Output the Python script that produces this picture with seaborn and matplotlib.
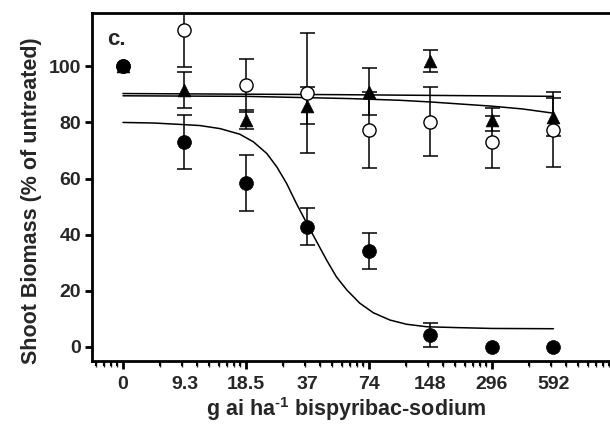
import numpy as np
import pandas as pd
import matplotlib
matplotlib.use("Agg")
import matplotlib.pyplot as plt
from matplotlib.ticker import FixedLocator, LogLocator, NullFormatter
import seaborn as sns

# ---------------- data ----------------
dose_labels = ['0', '9.3', '18.5', '37', '74', '148', '296', '592']
dose_pos = np.arange(len(dose_labels))            # equally spaced categories

closed_mean = [100, 73, 58.3, 42.8, 34.3, 4.3, 0, 0]
closed_err = [np.nan, 9.6, 10.0, 6.6, 6.4, 4.2, np.nan, np.nan]
open_mean = [100, 113, 93.2, 90.5, 77.2, 80.2, 73, 77.4]
open_err = [np.nan, 13.4, 9.3, 21.3, 13.5, 12.3, 9.3, 13.4]
tri_mean = [100, 91.5, 81, 86, 91, 101.8, 81, 82]
tri_err = [np.nan, 6.5, 3.5, 6.7, 8.5, 3.9, 4.2, 6.8]

# fitted curves (position units of the dose categories)
curve_closed_pos = [0, 0.5, 0.93, 1.25, 1.58, 1.90, 2.12, 2.34, 2.50, 2.66, 2.82,
                    2.99, 3.15, 3.31, 3.47, 3.64, 3.85, 4.07, 4.34, 4.61, 4.94,
                    5.43, 6.0, 7.0]
curve_closed_val = [80, 79.8, 79.3, 78.9, 77.8, 75.8, 73.1, 68.9, 64.2, 58.3, 51.1,
                    44.0, 37.5, 31.0, 25.0, 20.3, 15.6, 12.2, 9.6, 8.1, 7.2,
                    6.9, 6.6, 6.5]
curve_open_pos = [0, 3.5, 7]
curve_open_val = [90.3, 89.9, 89.3]
curve_tri_pos = [0, 2, 3.7, 4.5, 5.0, 6.0, 6.5, 7.0]
curve_tri_val = [89.5, 89.3, 88.5, 87.9, 87.3, 85.8, 84.8, 83.3]

yticks = [0, 20, 40, 60, 80, 100]

# axis maps each category to half a decade on a log axis
def to_x(p):
    return 10 ** (np.asarray(p, dtype=float) / 2.0)

# ---------------- style ----------------
sns.set_theme(style="ticks")
plt.rcParams['font.family'] = ['Liberation Sans', 'DejaVu Sans']
plt.rcParams['font.weight'] = 'bold'
plt.rcParams['mathtext.fontset'] = 'custom'
plt.rcParams['mathtext.rm'] = 'Liberation Sans:bold'
plt.rcParams['mathtext.bf'] = 'Liberation Sans:bold'
plt.rcParams['mathtext.default'] = 'rm'

fig = plt.figure(figsize=(6.1, 4.32), dpi=100)
ax = fig.add_axes([92 / 610, 71 / 432, 520 / 610, 348 / 432])

lw = 1.1
# curves
for cp, cv in [(curve_closed_pos, curve_closed_val),
               (curve_open_pos, curve_open_val),
               (curve_tri_pos, curve_tri_val)]:
    dfc = pd.DataFrame({'x': to_x(cp), 'y': cv})
    sns.lineplot(data=dfc, x='x', y='y', ax=ax, color='black', lw=lw,
                 sort=False, estimator=None, zorder=2)

x = to_x(dose_pos)
cap = 5.4
ek = dict(fmt='none', ecolor='black', elinewidth=lw, capsize=cap, capthick=lw, zorder=3)
ax.errorbar(x, open_mean, yerr=open_err, **ek)
ax.errorbar(x, tri_mean, yerr=tri_err, **ek)
ax.errorbar(x, closed_mean, yerr=closed_err, **ek)

df_open = pd.DataFrame({'x': x, 'y': open_mean})
df_tri = pd.DataFrame({'x': x, 'y': tri_mean})
df_closed = pd.DataFrame({'x': x, 'y': closed_mean})
sns.scatterplot(data=df_open, x='x', y='y', ax=ax, marker='o', s=90,
                facecolor='white', edgecolor='black', linewidth=1.0, zorder=4)
sns.scatterplot(data=df_tri, x='x', y='y', ax=ax, marker='^', s=85,
                color='black', edgecolor='black', linewidth=0.5, zorder=5)
sns.scatterplot(data=df_closed, x='x', y='y', ax=ax, marker='o', s=100,
                color='black', edgecolor='black', linewidth=0.5, zorder=6)

# axes
ax.set_xscale('log')
ax.set_xlim(10 ** (-0.252), 10 ** 3.976)
ax.set_ylim(-5, 119)
ax.set_xlabel('')
ax.set_ylabel('')

ax.xaxis.set_major_locator(FixedLocator(list(x)))
ax.set_xticklabels(dose_labels)
ax.xaxis.set_minor_locator(LogLocator(base=10, subs=(2, 3, 4, 5, 6, 7, 8, 9), numticks=20))
ax.xaxis.set_minor_formatter(NullFormatter())
ax.tick_params(axis='x', which='major', length=0, pad=11, labelsize=14)
ax.tick_params(axis='x', which='minor', length=3.5, width=1.5, direction='out', color='black')

sec = ax.secondary_xaxis('bottom')
sec.set_xticks([1, 10, 100, 1000])
sec.set_xticklabels([])
sec.tick_params(axis='x', length=5.5, width=2, direction='out', color='black')
sec.spines['bottom'].set_visible(False)

ax.set_yticks(yticks)
ax.set_yticklabels([str(v) for v in yticks])
ax.tick_params(axis='y', length=5, width=2, direction='out', pad=3, labelsize=14, color='black')
for lab in ax.get_xticklabels() + ax.get_yticklabels():
    lab.set_fontweight('bold')

for s in ['left', 'bottom', 'top']:
    ax.spines[s].set_linewidth(2.0)
    ax.spines[s].set_color('black')
ax.spines['right'].set_visible(False)

ax.text(15 / 520, 316 / 348, 'c.', transform=ax.transAxes, fontsize=16,
        fontweight='bold', ha='left', va='baseline')

fig.text(346 / 610, 16 / 432, r'g ai ha$^{\text{-}1}$ bispyribac-sodium', fontsize=15.5,
         fontweight='bold', ha='center', va='baseline')
fig.text(32 / 610, 1 - 201 / 432, 'Shoot Biomass (% of untreated)', fontsize=15.5,
         fontweight='bold', rotation=90, ha='center', va='center')

fig.savefig('out.png', dpi=100)
